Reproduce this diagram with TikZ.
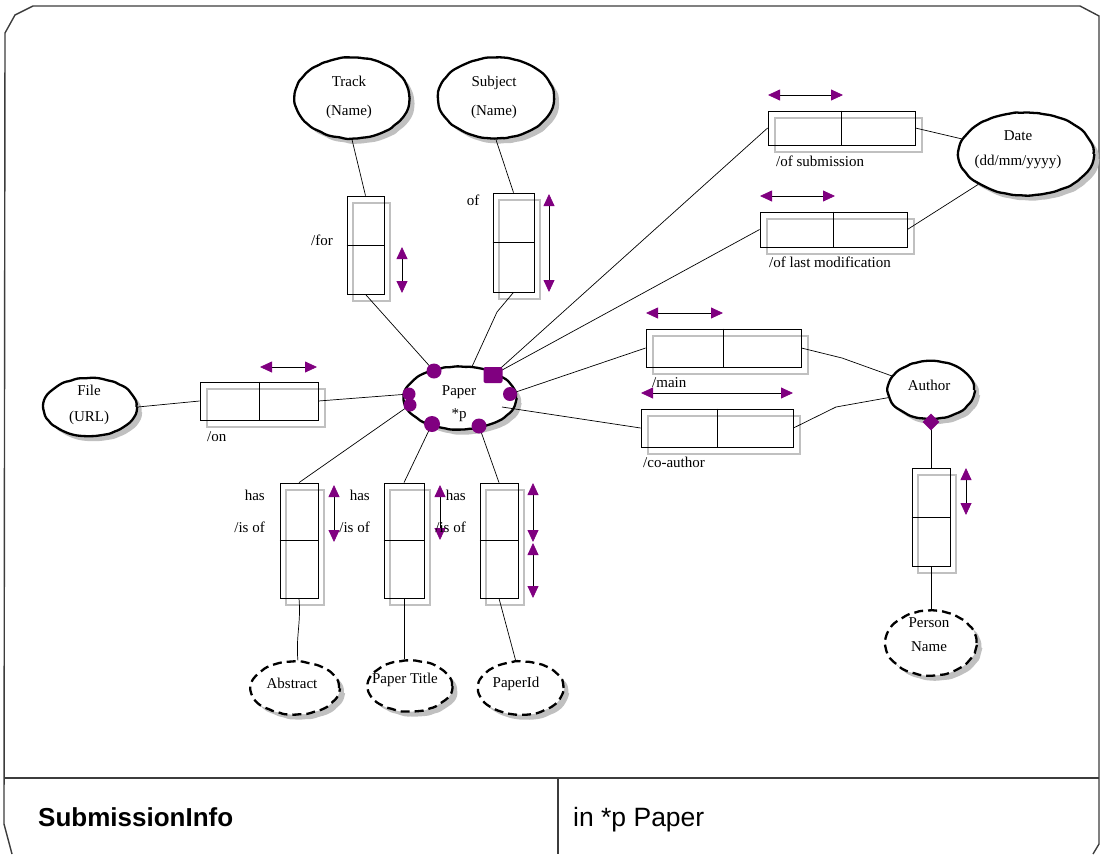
\documentclass[tikz,border=0pt]{standalone}
\usepackage{fontspec}
\setmainfont{Liberation Serif}
\newfontfamily\footfont{Liberation Sans}
\usetikzlibrary{shapes.geometric,arrows.meta,shadows,calc,decorations.pathmorphing}
\definecolor{dotpurple}{RGB}{128,0,128}
\definecolor{shade}{RGB}{192,192,192}
\definecolor{framegray}{RGB}{60,60,60}

% vertical relationship box: name, cx, cy, width, height
\newcommand\mkvrel[5]{%
  \draw[boxshade] (#2-#4/2+6,#3-#5/2+7) rectangle (#2+#4/2+6,#3+#5/2+7);
  \node[relbox, minimum width=#4pt, minimum height=#5pt] (#1) at (#2,#3) {};
  \draw[relline] (#1.west) -- (#1.east);}
% horizontal relationship box: name, cx, cy, width, height
\newcommand\mkhrel[5]{%
  \draw[boxshade] (#2-#4/2+7,#3-#5/2+7) rectangle (#2+#4/2+7,#3+#5/2+7);
  \node[relbox, minimum width=#4pt, minimum height=#5pt] (#1) at (#2,#3) {};
  \draw[relline] (#1.north) -- (#1.south);}

\begin{document}
\begin{tikzpicture}[x=1pt,y=-1pt,
  txt/.style={font=\fontsize{15}{18}\selectfont, inner sep=0pt, align=center},
  lbl/.style={font=\fontsize{15}{18}\selectfont, inner sep=0pt},
  entity/.style={ellipse, draw, line width=2.3pt, fill=white, inner sep=0pt,
    decorate, decoration={random steps, segment length=5pt, amplitude=0.5pt},
    rounded corners=1.5pt,
    drop shadow={shadow xshift=5pt, shadow yshift=-5pt, fill=shade, opacity=1}},
  valent/.style={entity, dash pattern=on 9pt off 5pt},
  relbox/.style={draw, line width=0.8pt, inner sep=0pt},
  relline/.style={line width=0.8pt},
  boxshade/.style={draw=shade, line width=2.6pt},
  link/.style={line width=0.7pt},
  dirarrow/.style={line width=0.8pt,
    {Triangle[length=12pt,width=11pt,color=dotpurple]}-{Triangle[length=12pt,width=11pt,color=dotpurple]}},
  blob/.style={circle, fill=dotpurple, inner sep=0pt, minimum size=#1pt},
  blob/.default=14,
  frameline/.style={draw=framegray, line width=1.4pt},
]
\useasboundingbox (0,0) rectangle (1100,854);

% outer frame and title band
\draw[frameline] (4,824) -- (5,33) -- (15,15) -- (33,6) -- (1080,6) -- (1099,16)
  -- (1099,844) -- (1093,854);
\draw[frameline] (4,824) -- (12,854);
\draw[frameline] (4,778) -- (1099,778);
\draw[frameline] (558,778) -- (558,854);
\node[anchor=base west, inner sep=0pt, font=\footfont\bfseries\fontsize{26}{30}\selectfont] (title) at (38,826) {SubmissionInfo};
\node[anchor=base west, inner sep=0pt, font=\footfont\fontsize{26.5}{30}\selectfont] (scope) at (573,826) {in *p Paper};

% entities
\node[entity, minimum width=115pt, minimum height=81pt] (track) at (352,98) {};
\node[entity, minimum width=116pt, minimum height=81pt] (subject) at (496,98) {};
\node[entity, minimum width=135pt, minimum height=83pt] (date) at (1026,154) {};
\node[entity, minimum width=93pt, minimum height=58pt] (file) at (90,407) {};
\node[entity, minimum width=112pt, minimum height=63pt] (paper) at (460,398) {};
\node[entity, minimum width=86pt, minimum height=58pt] (author) at (931,390) {};
\node[valent, minimum width=88pt, minimum height=53pt] (abstract) at (295,688) {};
\node[valent, minimum width=84pt, minimum height=51pt] (ptitle) at (410,686) {};
\node[valent, minimum width=85pt, minimum height=53pt] (pid) at (521,688) {};
\node[valent, minimum width=91pt, minimum height=65pt] (pname) at (931,643) {};

\node[txt] (trackT) at (349,97.5) {Track\\[11pt](Name)};
\node[txt] (subjectT) at (494,97.5) {Subject\\[11pt](Name)};
\node[txt] (dateT) at (1018,149.5) {Date\\[7pt](dd/mm/yyyy)};
\node[txt] (fileT) at (89,405) {File\\[8pt](URL)};
\node[txt] (paperT) at (459,403.5) {Paper\\[5pt]*p};
\node[txt] (authorT) at (929,385) {Author};
\node[txt] (pnameT) at (929,635) {Person\\[6pt]Name};
\node[txt] (abstractT) at (292,683) {Abstract};
\node[txt] (ptitleT) at (405,680) {Paper Title};
\node[txt] (pidT) at (516,684) {PaperId};

% relationship boxes
\mkvrel{forbox}{365.5}{245}{37}{98}
\mkvrel{ofbox}{513.5}{242.5}{41}{99}
\mkvrel{absbox}{299}{540.5}{38}{115}
\mkvrel{titlebox}{404}{540.5}{40}{115}
\mkvrel{idbox}{499}{540.5}{38}{115}
\mkvrel{personbox}{931}{517}{38}{98}
\mkhrel{onbox}{259}{401}{118}{38}
\mkhrel{subbox}{841.5}{128}{147}{34}
\mkhrel{lastbox}{833.5}{229.5}{147}{35}
\mkhrel{mainbox}{723.5}{348}{155}{38}
\mkhrel{cobox}{717}{428}{152}{38}

% role points on the entities
\coordinate (ptl) at (434,371);
\coordinate (psq) at (493,375);
\coordinate (pr) at (510,394);
\coordinate (pl1) at (409,394);
\coordinate (pl2) at (410,405);
\coordinate (pbl) at (432,424);
\coordinate (pb) at (479,426);
\coordinate (pco) at (502,407);
\coordinate (adia) at (931,422);
\coordinate (ofbend) at (497,312);
\coordinate (mainbend) at (842,358);
\coordinate (cobend) at (836,407);

% connectors
\draw[link] (track.south) -- (forbox.north);
\draw[link] (forbox.south) -- (ptl);
\draw[link] (subject.south) -- (ofbox.north);
\draw[link] (ofbox.south) -- (ofbend) -- (paper.69);
\draw[link] (psq) -- (subbox.west);
\draw[link] (psq) -- (lastbox.west);
\draw[link] (subbox.east) -- (date);
\draw[link] (lastbox.east) -- (date);
\draw[link] (pr) -- (mainbox.west);
\draw[link] (pco) -- (cobox.west);
\draw[link] (mainbox.east) -- (mainbend) -- (author);
\draw[link] (cobox.east) -- (cobend) -- (author);
\draw[link] (file.east) -- (onbox.west);
\draw[link] (onbox.east) -- (pl1);
\draw[link] (pl2) -- (absbox.north);
\draw[link] (pbl) -- (titlebox.north);
\draw[link] (pb) -- (idbox.north);
\draw[link] (absbox.south) to[out=-85,in=95] (abstract.84);
\draw[link] (titlebox.south) -- (titlebox.south |- ptitle.north);
\draw[link] (idbox.south) -- (pid.101);
\draw[link] (adia) -- (personbox.north);
\draw[link] (personbox.south) -- (pname.north);

% role markers
\node[blob=15] (mtl) at (ptl) {};
\node[fill=dotpurple, rounded corners=2pt, inner sep=0pt, minimum width=19pt, minimum height=16pt] (msq) at (psq) {};
\node[blob=14] (mr) at (pr) {};
\node[blob=13] (ml1) at (pl1) {};
\node[blob=13] (ml2) at (pl2) {};
\node[blob=16] (mbl) at (pbl) {};
\node[blob=15] (mb) at (pb) {};
\node[diamond, fill=dotpurple, inner sep=0pt, minimum size=17pt] (mdia) at (adia) {};

% reading directions
\draw[dirarrow] (260,367) -- (317,367);
\draw[dirarrow] (768,95) -- (843,95);
\draw[dirarrow] (760,196) -- (835,196);
\draw[dirarrow] (646,313) -- (723,313);
\draw[dirarrow] (641,393) -- (793,393);
\draw[dirarrow] (402,247) -- (402,293);
\draw[dirarrow] (549,194) -- (549,292);
\draw[dirarrow] (334,485) -- (334,542);
\draw[dirarrow] (440,485) -- (440,540);
\draw[dirarrow] (533,483) -- (533,542);
\draw[dirarrow] (533,543) -- (533,598);
\draw[dirarrow] (966,468) -- (966,515);

% role names
\node[lbl] (lfor) at (322,240) {/for};
\node[lbl] (lof) at (473,200) {of};
\node[lbl, anchor=east] (lhas1) at (265,495) {has};
\node[lbl, anchor=east] (lis1) at (265,527) {/is of};
\node[lbl, anchor=east] (lhas2) at (370,495) {has};
\node[lbl, anchor=east] (lis2) at (370,527) {/is of};
\node[lbl, anchor=east] (lhas3) at (466,495) {has};
\node[lbl, anchor=east] (lis3) at (466,527) {/is of};
\node[lbl, anchor=west] (lon) at (207,437) {/on};
\node[lbl, anchor=west] (lsub) at (776,161) {/of submission};
\node[lbl, anchor=west] (llast) at (769,262) {/of last modification};
\node[lbl, anchor=west] (lmain) at (652,383) {/main};
\node[lbl, anchor=west] (lco) at (643,462) {/co-author};
\end{tikzpicture}
\end{document}
